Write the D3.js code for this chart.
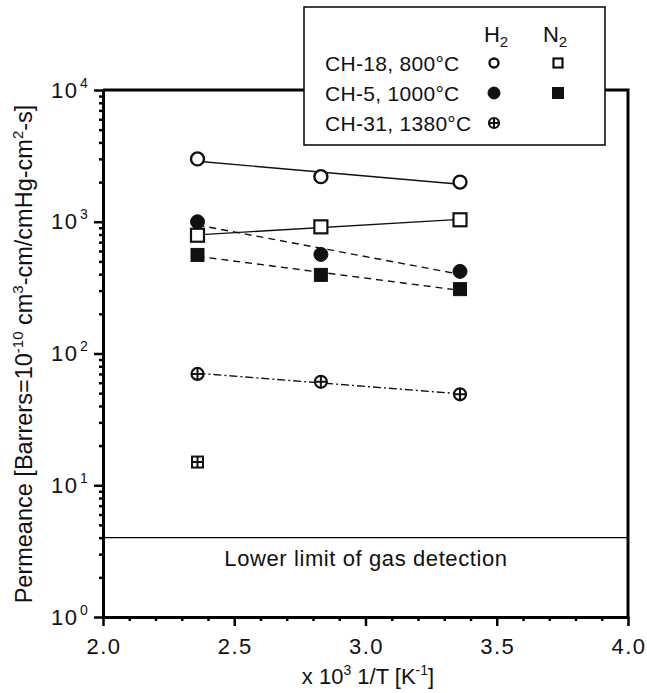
<!DOCTYPE html>
<html>
<head>
<meta charset="utf-8">
<script src="https://cdn.jsdelivr.net/npm/d3@7"></script>
<style>
  html, body { margin: 0; padding: 0; background: #fff; }
  svg { display: block; font-family: "Liberation Sans", Arial, sans-serif; }
</style>
</head>
<body>
<svg id="chart" width="647" height="693"></svg>
<script>
// ---------- data ----------
const invT = [2.36, 2.83, 3.36];            // x 10^3 1/T [K^-1]
const ch18H2 = [3000, 2200, 2000];
const ch18N2 = [790, 915, 1035];
const ch5H2 = [1000, 565, 420];
const ch5N2 = [560, 395, 308];
const ch31H2 = [70, 61, 49];
const ch31N2X = [2.36];
const ch31N2 = [15];
const lowerLimit = 4;
const xTicks = [2.0, 2.5, 3.0, 3.5, 4.0];
const yDecades = [0, 1, 2, 3, 4];
const legendRows = ["CH-18, 800°C", "CH-5, 1000°C", "CH-31, 1380°C"];

// ---------- layout ----------
const svg = d3.select("#chart");
const L = 103, R = 628, T = 90, B = 617;
const x = d3.scaleLinear().domain([2, 4]).range([L, R]);
const y = d3.scaleLog().domain([1, 1e4]).range([B, T]);

// fit line in log space
function fit(xs, ys) {
  const ly = ys.map(v => Math.log10(v));
  const mx = d3.mean(xs), my = d3.mean(ly);
  let sxy = 0, sxx = 0;
  xs.forEach((xv, i) => { sxy += (xv - mx) * (ly[i] - my); sxx += (xv - mx) ** 2; });
  const b = sxy / sxx;
  const x0 = d3.min(xs), x1 = d3.max(xs);
  return [[x0, Math.pow(10, my + b * (x0 - mx))], [x1, Math.pow(10, my + b * (x1 - mx))]];
}

// ---------- axes ----------
const minorY = [];
yDecades.slice(0, -1).forEach(d => { for (let k = 2; k <= 9; k++) minorY.push(k * Math.pow(10, d)); });
const minorX = d3.range(20, 41).map(v => v / 10).filter(v => !xTicks.some(t => Math.abs(t - v) < 1e-9));

const gy = svg.append("g").attr("transform", `translate(${L},0)`);
gy.call(d3.axisLeft(y).tickValues(minorY).tickSize(4).tickFormat("").tickSizeOuter(0));
gy.append("g").call(d3.axisLeft(y).tickValues(yDecades.map(d => Math.pow(10, d))).tickSize(9).tickFormat("").tickSizeOuter(0));
gy.selectAll("path.domain").attr("stroke", "#000").attr("stroke-width", 3);
gy.selectAll(".tick line").attr("stroke", "#000").attr("stroke-width", 2.5);

const gx = svg.append("g").attr("transform", `translate(0,${B})`);
gx.call(d3.axisBottom(x).tickValues(minorX).tickSize(4).tickFormat("").tickSizeOuter(0));
gx.append("g").call(d3.axisBottom(x).tickValues(xTicks).tickSize(9).tickFormat("").tickSizeOuter(0));
gx.selectAll("path.domain").attr("stroke", "#000").attr("stroke-width", 3);
gx.selectAll(".tick line").attr("stroke", "#000").attr("stroke-width", 2.5);

// top and right frame
svg.append("path")
  .attr("d", `M${L},${T}H${R}V${B + 1.5}`)
  .attr("fill", "none").attr("stroke", "#000").attr("stroke-width", 3);

// y tick labels
yDecades.forEach(d => {
  const t = svg.append("text")
    .attr("x", 51).attr("y", y(Math.pow(10, d)) + 7.5)
    .attr("font-size", 22).attr("letter-spacing", 1.5).attr("fill", "#111");
  t.append("tspan").text("10");
  t.append("tspan").attr("font-size", 14).attr("dx", 1.5).attr("dy", -10).text(d);
});

// x tick labels
xTicks.forEach(v => {
  svg.append("text")
    .attr("x", x(v) + 1).attr("y", 654)
    .attr("text-anchor", "middle")
    .attr("font-size", 22).attr("letter-spacing", 1.5).attr("fill", "#111")
    .text(v.toFixed(1));
});

// x title
{
  const t = svg.append("text").attr("x", 368).attr("y", 684)
    .attr("text-anchor", "middle").attr("font-size", 22).attr("fill", "#111");
  t.append("tspan").text("x 10");
  t.append("tspan").attr("font-size", 14).attr("dy", -9).text("3");
  t.append("tspan").attr("dy", 9).text(" 1/T [K");
  t.append("tspan").attr("font-size", 14).attr("dy", -9).text("-1");
  t.append("tspan").attr("dy", 9).text("]");
}

// y title
{
  const t = svg.append("text")
    .attr("transform", `translate(32,354) rotate(-90)`)
    .attr("text-anchor", "middle").attr("font-size", 23.5).attr("fill", "#111");
  t.append("tspan").text("Permeance [Barrers=10");
  t.append("tspan").attr("font-size", 15).attr("dy", -9).text("-10");
  t.append("tspan").attr("dy", 9).text(" cm");
  t.append("tspan").attr("font-size", 15).attr("dy", -9).text("3");
  t.append("tspan").attr("dy", 9).text("-cm/cmHg-cm");
  t.append("tspan").attr("font-size", 15).attr("dy", -9).text("2");
  t.append("tspan").attr("dy", 9).text("-s]");
}

// lower limit
svg.append("line")
  .attr("x1", L).attr("x2", R).attr("y1", y(lowerLimit)).attr("y2", y(lowerLimit))
  .attr("stroke", "#000").attr("stroke-width", 1.2);
svg.append("text")
  .attr("x", 366).attr("y", 566).attr("text-anchor", "middle")
  .attr("font-size", 22).attr("letter-spacing", 0.6).attr("fill", "#111")
  .text("Lower limit of gas detection");

// ---------- fit lines ----------
const line = d3.line().x(d => x(d[0])).y(d => y(d[1]));
const fits = [
  { ys: ch18H2, dash: null },
  { ys: ch18N2, dash: null },
  { ys: ch5H2, dash: "7,5" },
  { ys: ch5N2, dash: "7,5" },
  { ys: ch31H2, dash: "8,3,2,3" }
];
fits.forEach(f => {
  svg.append("path").attr("d", line(fit(invT, f.ys)))
    .attr("fill", "none").attr("stroke", "#111").attr("stroke-width", 1.4)
    .attr("stroke-dasharray", f.dash);
});

// ---------- markers ----------
function drawMarker(g, type, cx, cy, s) {
  if (type === "openCircle") {
    g.append("circle").attr("cx", cx).attr("cy", cy).attr("r", s)
      .attr("fill", "#fff").attr("stroke", "#111").attr("stroke-width", 2.4);
  } else if (type === "filledCircle") {
    g.append("circle").attr("cx", cx).attr("cy", cy).attr("r", s)
      .attr("fill", "#111").attr("stroke", "#111").attr("stroke-width", 1);
  } else if (type === "openSquare") {
    g.append("rect").attr("x", cx - s).attr("y", cy - s).attr("width", 2 * s).attr("height", 2 * s)
      .attr("fill", "#fff").attr("stroke", "#111").attr("stroke-width", 2.2);
  } else if (type === "filledSquare") {
    g.append("rect").attr("x", cx - s).attr("y", cy - s).attr("width", 2 * s).attr("height", 2 * s)
      .attr("fill", "#111").attr("stroke", "#111").attr("stroke-width", 1);
  } else if (type === "plusCircle") {
    g.append("circle").attr("cx", cx).attr("cy", cy).attr("r", s)
      .attr("fill", "#fff").attr("stroke", "#111").attr("stroke-width", 2.2);
    g.append("path").attr("d", `M${cx - s},${cy}H${cx + s}M${cx},${cy - s}V${cy + s}`)
      .attr("stroke", "#111").attr("stroke-width", 2);
  } else if (type === "plusSquare") {
    g.append("rect").attr("x", cx - s).attr("y", cy - s).attr("width", 2 * s).attr("height", 2 * s)
      .attr("fill", "#fff").attr("stroke", "#111").attr("stroke-width", 2);
    g.append("path").attr("d", `M${cx - s},${cy}H${cx + s}M${cx},${cy - s}V${cy + s}`)
      .attr("stroke", "#111").attr("stroke-width", 2);
  }
}

const series = [
  { xs: invT, ys: ch18N2, type: "openSquare", s: 6.5 },
  { xs: invT, ys: ch5N2, type: "filledSquare", s: 6.5 },
  { xs: invT, ys: ch5H2, type: "filledCircle", s: 7 },
  { xs: invT, ys: ch18H2, type: "openCircle", s: 6.5 },
  { xs: invT, ys: ch31H2, type: "plusCircle", s: 6 },
  { xs: ch31N2X, ys: ch31N2, type: "plusSquare", s: 5.5 }
];
const gm = svg.append("g");
series.forEach(sr => sr.xs.forEach((xv, i) => drawMarker(gm, sr.type, x(xv), y(sr.ys[i]), sr.s)));

// ---------- legend ----------
const lg = svg.append("g");
lg.append("rect").attr("x", 304).attr("y", 7).attr("width", 301).attr("height", 138)
  .attr("fill", "#fff").attr("stroke", "#111").attr("stroke-width", 1.6);
[["H", 496], ["N", 555]].forEach(([s, cx]) => {
  const t = lg.append("text").attr("x", cx).attr("y", 42).attr("text-anchor", "middle")
    .attr("font-size", 22).attr("fill", "#111");
  t.append("tspan").text(s);
  t.append("tspan").attr("font-size", 15).attr("dy", 5).text("2");
});
legendRows.forEach((name, i) => {
  lg.append("text").attr("x", 325).attr("y", 71 + i * 30)
    .attr("font-size", 21).attr("letter-spacing", 0.3).attr("fill", "#111").text(name);
});
drawMarker(lg, "openCircle", 494, 63, 4.5);
drawMarker(lg, "openSquare", 558, 63, 4.5);
drawMarker(lg, "filledCircle", 494, 93, 6);
drawMarker(lg, "filledSquare", 558, 93, 5.5);
drawMarker(lg, "plusCircle", 494, 123, 5);
</script>
</body>
</html>
